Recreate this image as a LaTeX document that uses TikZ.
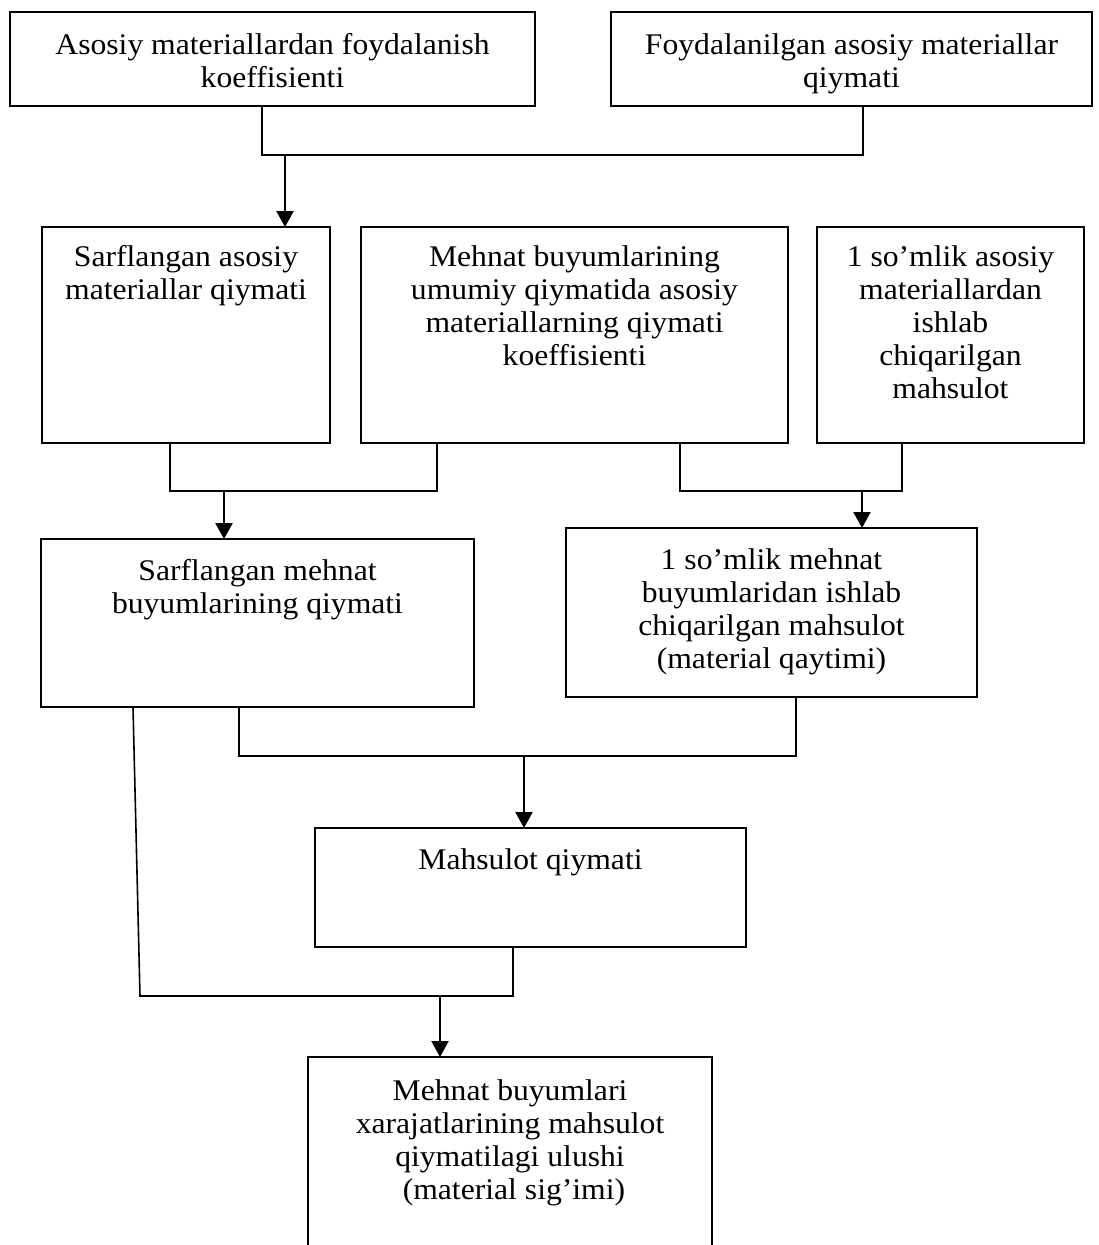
\documentclass[tikz,border=0pt]{standalone}
\usepackage{fontspec}
\setmainfont{Liberation Serif}[FakeStretch=1.055]
\usetikzlibrary{arrows.meta}
\begin{document}
\begin{tikzpicture}[x=1pt,y=-1pt,
  box/.style={draw,line width=1.6pt,inner sep=0pt,outer sep=0pt},
  txt/.style={anchor=north,align=center,inner sep=0pt,font=\fontsize{30}{33}\selectfont},
  conn/.style={line width=1.6pt,line join=miter},
  arr/.style={line width=2.2pt,-{Triangle[length=16pt,width=17pt]}}]
\useasboundingbox (0,0) rectangle (1099,1245);
\clip (0,0) rectangle (1099,1245);

% boxes
\node[box,minimum width=525pt,minimum height=94pt]  (b1) at (272.5,59) {};
\node[box,minimum width=481pt,minimum height=94pt]  (b2) at (851.5,59) {};
\node[box,minimum width=288pt,minimum height=216pt] (b3) at (186,335) {};
\node[box,minimum width=427pt,minimum height=216pt] (b4) at (574.5,335) {};
\node[box,minimum width=267pt,minimum height=216pt] (b5) at (950.5,335) {};
\node[box,minimum width=433pt,minimum height=168pt] (b6) at (257.5,623) {};
\node[box,minimum width=411pt,minimum height=169pt] (b7) at (771.5,612.5) {};
\node[box,minimum width=431pt,minimum height=119pt] (b8) at (530.5,887.5) {};
\node[box,minimum width=404pt,minimum height=243pt] (b9) at (510,1178.5) {};

% labels, set from the top of each box
\node[txt] (t1) at ([yshift=-21pt]b1.north) {Asosiy materiallardan foydalanish\\koeffisienti};
\node[txt] (t2) at ([yshift=-21pt]b2.north) {Foydalanilgan asosiy materiallar\\qiymati};
\node[txt] (t3) at ([yshift=-18pt]b3.north) {Sarflangan asosiy\\materiallar qiymati};
\node[txt] (t4) at ([yshift=-18pt]b4.north) {Mehnat buyumlarining\\umumiy qiymatida asosiy\\materiallarning qiymati\\koeffisienti};
\node[txt] (t5) at ([yshift=-18pt]b5.north) {1 so’mlik asosiy\\materiallardan\\ishlab\\chiqarilgan\\mahsulot};
\node[txt] (t6) at ([yshift=-20pt]b6.north) {Sarflangan mehnat\\buyumlarining qiymati};
\node[txt] (t7) at ([yshift=-20pt]b7.north) {1 so’mlik mehnat\\buyumlaridan ishlab\\chiqarilgan mahsulot\\(material qaytimi)};
\node[txt] (t8) at ([yshift=-20pt]b8.north) {Mahsulot qiymati};
\node[txt] (t9) at ([yshift=-22pt]b9.north) {Mehnat buyumlari\\xarajatlarining mahsulot\\qiymatilagi ulushi\\\ (material sig’imi)};

% junction points of the connectors
\coordinate (k1a) at (262,155);  \coordinate (k1b) at (863,155);  \coordinate (m1) at (285,155);
\coordinate (k2a) at (170,491);  \coordinate (k2b) at (437,491);  \coordinate (m2) at (224,491);
\coordinate (k3a) at (680,491);  \coordinate (k3b) at (902,491);  \coordinate (m3) at (862,491);
\coordinate (k4a) at (239,756);  \coordinate (k4b) at (796,756);  \coordinate (m4) at (524,756);
\coordinate (s5)  at (133,0);
\coordinate (k5a) at (140,996);  \coordinate (k5b) at (513,996);  \coordinate (m5) at (440,996);

% connectors
\draw[conn] (b1.south -| k1a) -- (k1a) -- (k1b) -- (b2.south -| k1b);
\draw[arr] (m1) -- (b3.north -| m1);

\draw[conn] (b3.south -| k2a) -- (k2a) -- (k2b) -- (b4.south -| k2b);
\draw[arr] (m2) -- (b6.north -| m2);

\draw[conn] (b4.south -| k3a) -- (k3a) -- (k3b) -- (b5.south -| k3b);
\draw[arr] (m3) -- (b7.north -| m3);

\draw[conn] (b6.south -| k4a) -- (k4a) -- (k4b) -- (b7.south -| k4b);
\draw[arr] (m4) -- (b8.north -| m4);

\draw[conn] (b6.south -| s5) -- (k5a) -- (k5b) -- (b8.south -| k5b);
\draw[arr] (m5) -- (b9.north -| m5);
\end{tikzpicture}
\end{document}
